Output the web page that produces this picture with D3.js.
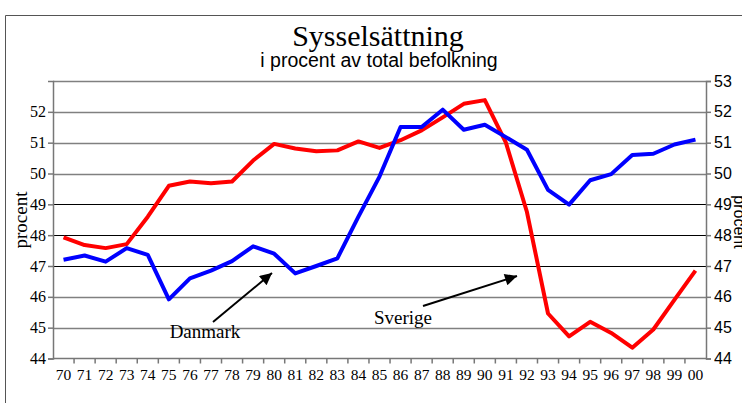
<!DOCTYPE html>
<html>
<head>
<meta charset="utf-8">
<script src="https://cdn.jsdelivr.net/npm/d3@7"></script>
<style>
  body { margin: 0; background: #fff; }
  svg { display: block; }
</style>
</head>
<body>
<svg id="chart" width="742" height="403"></svg>
<script>
// Sysselsättning – Danmark vs Sverige, 1970-2000

const years = ["70","71","72","73","74","75","76","77","78","79","80","81","82","83","84","85",
               "86","87","88","89","90","91","92","93","94","95","96","97","98","99","00"];

const danmark = [47.2, 47.34, 47.14, 47.58, 47.36, 45.92, 46.6, 46.85, 47.16, 47.64, 47.4,
                 46.76, 47.0, 47.25, 48.6, 49.9, 51.51, 51.51, 52.07, 51.42, 51.58,
                 51.18, 50.77, 49.47, 48.99, 49.78, 49.98, 50.6, 50.64, 50.94, 51.1];

const sverige = [47.93, 47.68, 47.58, 47.71, 48.6, 49.6, 49.74, 49.68, 49.74, 50.42, 50.96,
                 50.81, 50.72, 50.75, 51.04, 50.83, 51.08, 51.4, 51.82, 52.26, 52.38,
                 51.0, 48.75, 45.46, 44.72, 45.19, 44.83, 44.35, 44.94, 45.9, 46.85];

const leftTicks = [44, 45, 46, 47, 48, 49, 50, 51, 52];
const rightTicks = [44, 45, 46, 47, 48, 49, 50, 51, 52, 53];

const serif = "'Liberation Serif', 'Times New Roman', serif";
const sans = "'Liberation Sans', Arial, sans-serif";

const svg = d3.select("#chart");
const plot = {left: 53, right: 706, top: 81, bottom: 358.5};

const x = d3.scaleBand().domain(years).range([plot.left, plot.right]);
const y = d3.scaleLinear().domain([44, 53]).range([plot.bottom, plot.top]);

// ram runt diagrammet
svg.append("path")
    .attr("d", "M5.5,403 V15.5 H742")
    .attr("fill", "none")
    .attr("stroke", "#555")
    .attr("stroke-width", 1);

// rubriker
svg.append("text")
    .attr("x", 378).attr("y", 46)
    .attr("text-anchor", "middle")
    .style("font-family", serif).style("font-size", "30px")
    .text("Sysselsättning");

svg.append("text")
    .attr("x", 379).attr("y", 67)
    .attr("text-anchor", "middle")
    .style("font-family", sans).style("font-size", "19.5px")
    .text("i procent av total befolkning");

// rutnät
svg.append("g")
    .selectAll("line")
    .data(d3.range(45, 54))
    .join("line")
    .attr("x1", plot.left).attr("x2", plot.right)
    .attr("y1", d => Math.round(y(d)) + 0.5).attr("y2", d => Math.round(y(d)) + 0.5)
    .attr("stroke", d => (d >= 47 && d <= 49) ? "#000" : "#808080")
    .attr("stroke-width", d => (d >= 47 && d <= 49) ? 1 : 1.6);

// vänster axel
const leftAxis = svg.append("g")
    .attr("transform", `translate(${plot.left},0)`)
    .call(d3.axisLeft(y).tickValues(leftTicks).tickSize(5).tickPadding(2).tickFormat(d3.format("d")));
leftAxis.select(".domain").attr("stroke", "#777").attr("stroke-width", 1.5);
leftAxis.selectAll(".tick line").attr("stroke", "#777").attr("stroke-width", 1.5);
leftAxis.selectAll("text")
    .style("font-family", serif).style("font-size", "16px").attr("fill", "#000");

// höger axel
const rightAxis = svg.append("g")
    .attr("transform", `translate(${plot.right},0)`)
    .call(d3.axisRight(y).tickValues(rightTicks).tickSize(5).tickPadding(3).tickFormat(d3.format("d")));
rightAxis.select(".domain").attr("stroke", "#777").attr("stroke-width", 1.5);
rightAxis.selectAll(".tick line").attr("stroke", "#777").attr("stroke-width", 1.5);
rightAxis.selectAll("text")
    .style("font-family", sans).style("font-size", "16px").attr("fill", "#000");

// x-axel med streck mellan kategorierna
const xAxis = svg.append("g").attr("transform", `translate(0,${plot.bottom})`);
xAxis.append("line")
    .attr("x1", plot.left).attr("x2", plot.right)
    .attr("stroke", "#777").attr("stroke-width", 1.5);
xAxis.selectAll(".xt")
    .data(years.slice(1))
    .join("line")
    .attr("class", "xt")
    .attr("x1", d => x(d)).attr("x2", d => x(d))
    .attr("y1", 0).attr("y2", 5)
    .attr("stroke", "#777").attr("stroke-width", 1.5);
xAxis.selectAll(".xl")
    .data(years)
    .join("text")
    .attr("class", "xl")
    .attr("x", d => x(d) + x.bandwidth() / 2)
    .attr("y", 21)
    .attr("text-anchor", "middle")
    .style("font-family", serif).style("font-size", "15.5px")
    .text(d => d);

// axeltitlar
svg.append("text")
    .attr("transform", "translate(27,220) rotate(-90)")
    .attr("text-anchor", "middle")
    .style("font-family", serif).style("font-size", "19px")
    .text("procent");

svg.append("text")
    .attr("transform", "translate(734,222) rotate(90)")
    .attr("text-anchor", "middle")
    .style("font-family", sans).style("font-size", "16px")
    .text("procent");

// linjer
const line = d3.line()
    .x((d, i) => x(years[i]) + x.bandwidth() / 2)
    .y(d => y(d));

svg.append("path")
    .datum(sverige)
    .attr("d", line)
    .attr("fill", "none")
    .attr("stroke", "#ff0000")
    .attr("stroke-width", 4)
    .attr("stroke-linejoin", "round");

svg.append("path")
    .datum(danmark)
    .attr("d", line)
    .attr("fill", "none")
    .attr("stroke", "#0000ff")
    .attr("stroke-width", 4)
    .attr("stroke-linejoin", "round");

// pilar och etiketter
svg.append("defs").append("marker")
    .attr("id", "arrow")
    .attr("viewBox", "0 0 10 10")
    .attr("refX", 10).attr("refY", 5)
    .attr("markerWidth", 7).attr("markerHeight", 6)
    .attr("markerUnits", "strokeWidth")
    .attr("orient", "auto")
    .append("path")
    .attr("d", "M0,0 L10,5 L0,10 Z")
    .attr("fill", "#000");

const arrows = [
    {x1: 213, y1: 322, x2: 272, y2: 273},
    {x1: 423, y1: 306, x2: 517, y2: 276}
];
svg.selectAll(".arrow")
    .data(arrows)
    .join("line")
    .attr("class", "arrow")
    .attr("x1", d => d.x1).attr("y1", d => d.y1)
    .attr("x2", d => d.x2).attr("y2", d => d.y2)
    .attr("stroke", "#000")
    .attr("stroke-width", 2)
    .attr("marker-end", "url(#arrow)");

svg.append("text")
    .attr("x", 205).attr("y", 338)
    .attr("text-anchor", "middle")
    .style("font-family", serif).style("font-size", "19px")
    .text("Danmark");

svg.append("text")
    .attr("x", 403).attr("y", 324)
    .attr("text-anchor", "middle")
    .style("font-family", serif).style("font-size", "19px")
    .text("Sverige");
</script>
</body>
</html>
